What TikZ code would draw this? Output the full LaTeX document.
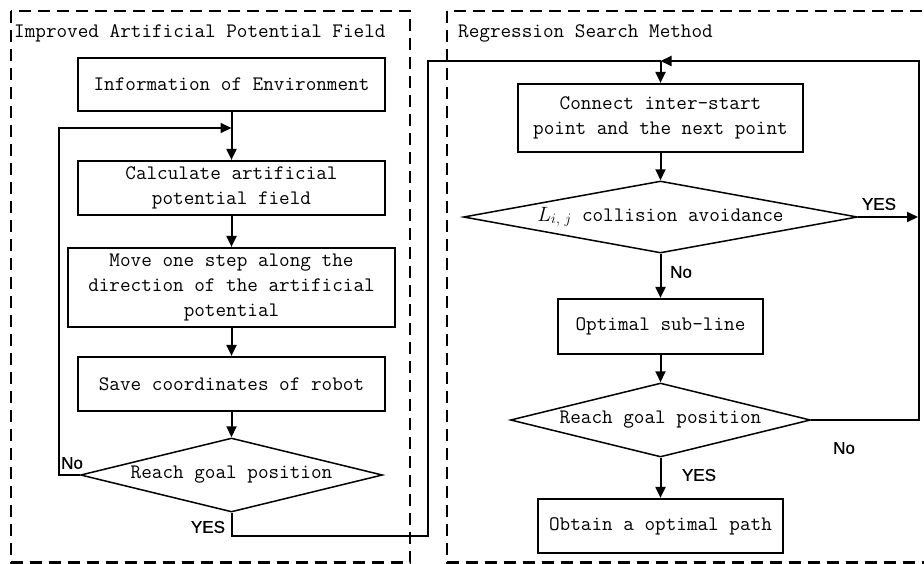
\documentclass[tikz,border=0pt]{standalone}
\usepackage{fontspec}
\setmainfont{Liberation Serif}
\newfontfamily\labfont{Liberation Sans}[FakeBold=0.8]
\newcommand{\boxfont}{\ttfamily\addfontfeature{FakeBold=2}\fontsize{20.6}{25}\selectfont}
\usetikzlibrary{shapes.geometric,arrows.meta}

\tikzset{
  proc/.style={draw, line width=2.2pt, inner sep=0pt, align=center, font=\boxfont},
  decide/.style={draw, diamond, line width=1.5pt, inner sep=0pt, align=center, font=\boxfont},
  conn/.style={line width=2pt},
  arr/.style={line width=2pt, -{Triangle[length=11pt,width=10pt]}},
  frame/.style={line width=2.5pt, dash pattern=on 12pt off 7pt},
  title/.style={anchor=west, inner sep=0pt, font=\boxfont},
  yn/.style={inner sep=0pt, font=\labfont\fontsize{17}{20}\selectfont}
}

\begin{document}
\begin{tikzpicture}[x=1pt,y=-1pt]
\useasboundingbox (0,0) rectangle (924,563);
\fill[white] (0,0) rectangle (924,563);

% dashed frames of the two stages
\draw[frame] (11,11) rectangle (410,562.5);
\draw[frame] (447,11) rectangle (950,562.5);
\node[title] (t1) at (14,33) {Improved Artificial Potential Field};
\node[title] (t2) at (458,33) {Regression Search Method};

% left column: improved artificial potential field
\node[proc, minimum width=307pt, minimum height=53pt] (b1) at (231.5,84.5) {Information of Environment};
\node[proc, minimum width=307pt, minimum height=54pt] (b2) at (231.5,188) {Calculate artificial\\potential field};
\node[proc, minimum width=327pt, minimum height=79pt] (b3) at (231.5,287.5) {Move one step along the\\direction of the artificial\\potential};
\node[proc, minimum width=307pt, minimum height=54pt] (b4) at (231.5,384) {Save coordinates of robot};
\node[decide, minimum width=302pt, minimum height=74pt, aspect=4.08] (d1) at (231.5,475) {Reach goal position};

% right column: regression search method
\node[proc, minimum width=285pt, minimum height=68pt] (r1) at (660.5,118) {Connect inter-start\\point and the next point};
\node[decide, minimum width=394pt, minimum height=72pt, aspect=5.47] (d2) at (660.5,217)
  {$L$\raisebox{-2pt}{\fontsize{14}{14}\selectfont$i,\,j$} collision avoidance};
\node[proc, minimum width=205pt, minimum height=55pt] (r2) at (660.5,326.5) {Optimal sub-line};
\node[decide, minimum width=300pt, minimum height=74pt, aspect=4.05] (d3) at (660.5,420) {Reach goal position};
\node[proc, minimum width=245pt, minimum height=54pt] (r3) at (660.5,526) {Obtain a optimal path};

% junction points
\coordinate (j1) at (231.5,128);
\coordinate (j2) at (660.5,61);
\coordinate (ry) at (918,217);

% left column flow
\draw[arr] (b1.south) -- (b2.north);
\draw[arr] (b2.south) -- (b3.north);
\draw[arr] (b3.south) -- (b4.north);
\draw[arr] (b4.south) -- (d1.north);
\draw[arr] (d1.west) -- (59,475) -- (59,128) -- (j1);
\draw[conn] (d1.south) -- (231.5,536) -- (428,536) -- (428,61) -- (j2);

% right column flow
\draw[arr] (j2) -- (r1.north);
\draw[arr] (r1.south) -- (d2.north);
\draw[arr] (d2.east) -- (ry);
\draw[arr] (d2.south) -- (r2.north);
\draw[arr] (r2.south) -- (d3.north);
\draw[arr] (d3.south) -- (r3.north);
\draw[arr] (d3.east) -- (919,420) -- (919,61) -- (j2);

% branch labels
\node[yn] (n1) at (72,463) {No};
\node[yn] (y1) at (208,527) {YES};
\node[yn] (y2) at (879,204) {YES};
\node[yn] (n2) at (681,272) {No};
\node[yn] (y3) at (699,475) {YES};
\node[yn] (n3) at (844,448) {No};
\end{tikzpicture}
\end{document}
